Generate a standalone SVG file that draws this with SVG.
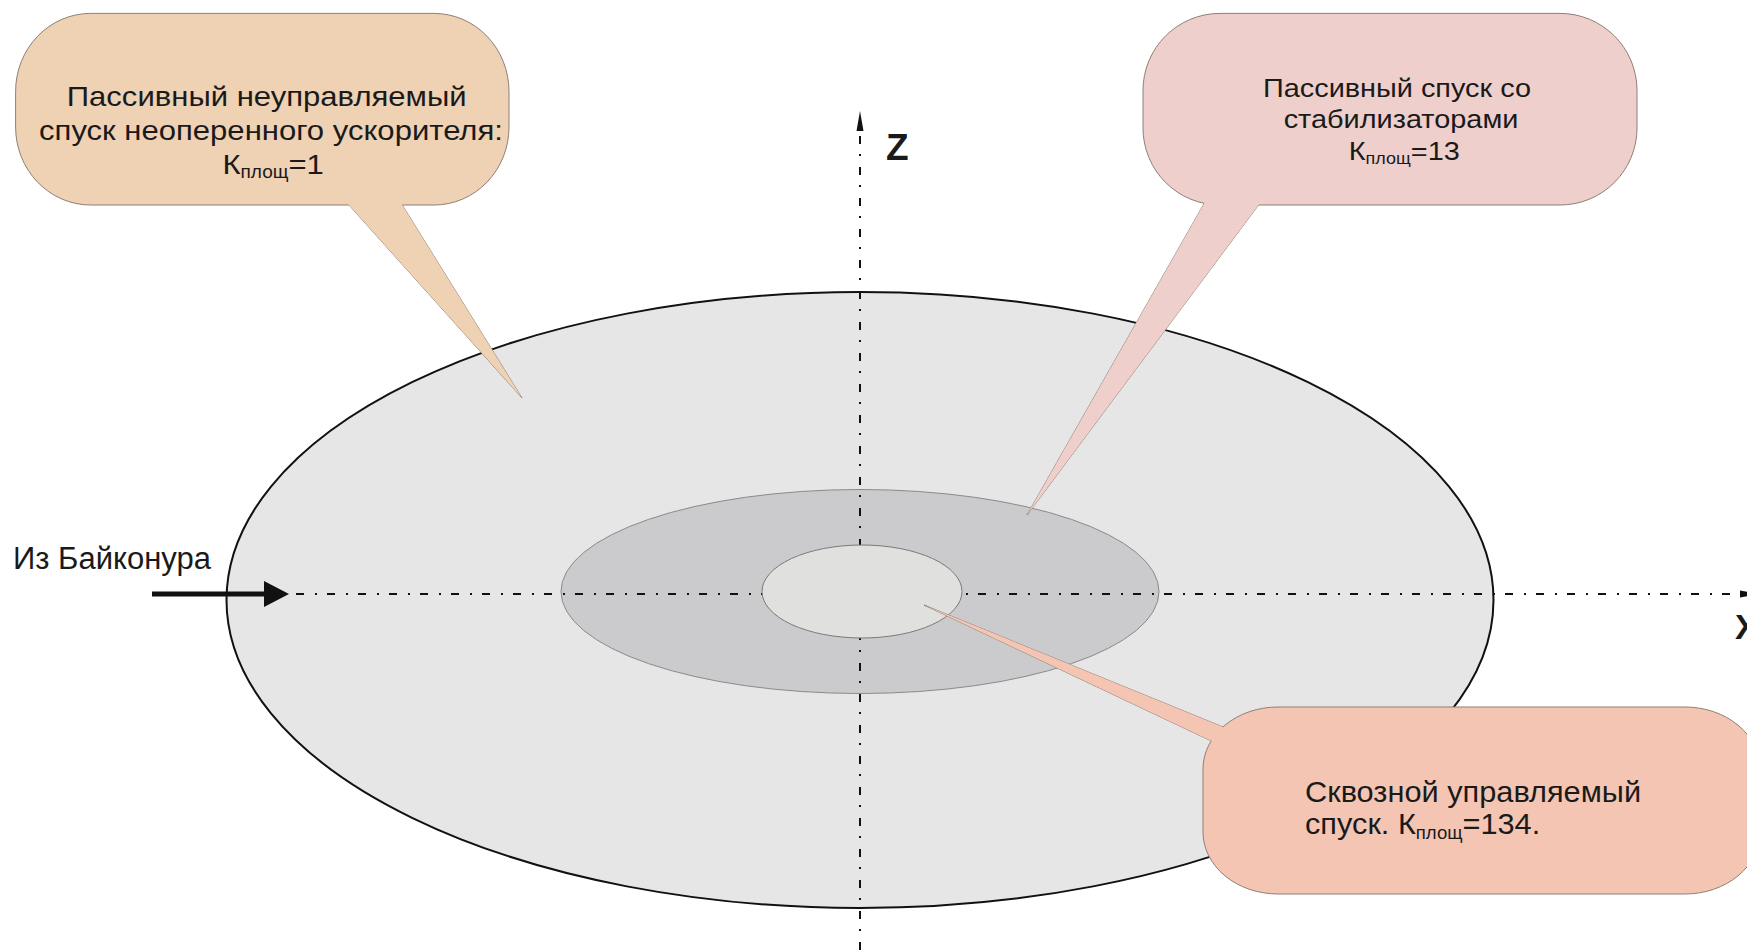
<svg xmlns="http://www.w3.org/2000/svg" width="1747" height="950" viewBox="0 0 1747 950">
<style>
.t{font-family:"Liberation Sans",Arial,sans-serif;fill:#1a1a1a}
.ax{stroke:#111;stroke-width:2;stroke-dasharray:8 11 2 10;fill:none}
.bs{stroke:#8e7f76;stroke-width:1}
.lab{font-family:"Liberation Sans",Arial,sans-serif;font-weight:bold;fill:#1a1a1a}
</style>
<rect width="1747" height="950" fill="#ffffff"/>
<g id="zones">
<ellipse id="zone-outer" cx="860" cy="600" rx="633.5" ry="308" fill="#e6e6e6" stroke="#111" stroke-width="2"/>
<ellipse id="zone-middle" cx="860" cy="591.5" rx="299" ry="102" fill="#cbcbcd" stroke="#8a8a8a" stroke-width="1"/>
</g>
<g id="axes">
<line class="ax" x1="296" y1="594" x2="1742" y2="594"/>
<polygon points="1740,590.5 1758,594 1740,597.5" fill="#111"/>
<line class="ax" x1="860" y1="950" x2="860" y2="130"/>
<polygon points="856.5,131 860,111 863.5,131" fill="#111"/>
<text class="lab" x="886" y="160" font-size="37">Z</text>
<text class="lab" x="1735" y="639" font-size="35">X</text>
</g>
<g id="zone-inner">
<ellipse cx="862" cy="591.5" rx="100" ry="46.5" fill="#e0e0df" stroke="#7a7a7a" stroke-width="1"/>
</g>
<g id="connectors">
<line x1="152" y1="594" x2="268" y2="594" stroke="#111" stroke-width="5"/>
<polygon points="264,581 289,594 264,607" fill="#111"/>
</g>
<g id="baikonur">
<text class="t" x="13" y="569" font-size="31">Из Байконура</text>
</g>
<g id="callout-1">
<polygon class="bs" points="522,398 340,195 396,195" fill="#efd1b4"/>
<rect class="bs" x="15.6" y="13.4" width="493.4" height="191.6" rx="75" ry="78" fill="#efd1b4"/>
<polygon points="522,398 340,195 396,195" fill="#efd1b4"/>
<g transform="translate(271 0) scale(1.09 1)">
<text class="t" font-size="28.5" text-anchor="middle">
<tspan x="0" y="106">Пассивный неуправляемый</tspan>
<tspan x="0" y="140">спуск неоперенного ускорителя:</tspan>
</text>
<text class="t" font-size="28.5" text-anchor="middle" x="2" y="174">К<tspan font-size="17.5" dy="4">площ</tspan><tspan dy="-4">=1</tspan></text>
</g>
</g>
<g id="callout-2">
<polygon class="bs" points="1027,515 1209,195 1266,195" fill="#efcfcb"/>
<rect class="bs" x="1143" y="13.4" width="494" height="191.6" rx="77" ry="77" fill="#efcfcb"/>
<polygon points="1027,515 1209,195 1266,195" fill="#efcfcb"/>
<g transform="translate(1401 0) scale(1.09 1)">
<text class="t" font-size="26.5" text-anchor="middle">
<tspan x="0" y="97">Пассивный спуск со</tspan>
<tspan x="0" y="128.5">стабилизаторами</tspan>
</text>
<text class="t" font-size="26.5" text-anchor="middle" x="3" y="160">К<tspan font-size="16.5" dy="4">площ</tspan><tspan dy="-4">=13</tspan></text>
</g>
</g>
<g id="callout-3">
<polygon class="bs" points="924,605 1245,736 1240,754.5" fill="#f4c5b3"/>
<rect class="bs" x="1203" y="707" width="557" height="187" rx="75" ry="62" fill="#f4c5b3"/>
<polygon points="924,605 1245,736 1240,754.5" fill="#f4c5b3"/>
<g transform="translate(1305 0) scale(1.06 1)">
<text class="t" font-size="29" x="0" y="802">Сквозной управляемый</text>
<text class="t" font-size="29" x="0" y="834">спуск. К<tspan font-size="17.5" dy="5">площ</tspan><tspan dy="-5">=134.</tspan></text>
</g>
</g>
</svg>
